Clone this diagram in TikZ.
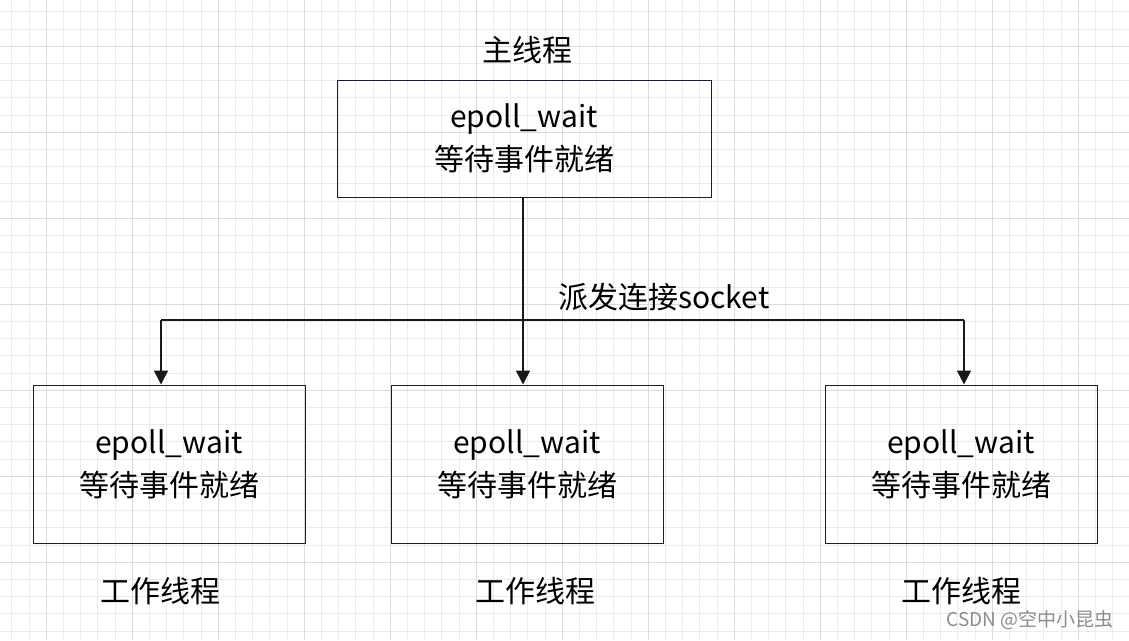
\documentclass[tikz,border=0pt]{standalone}
\usepackage{fontspec}
\setmainfont{Noto Sans CJK SC}
\usetikzlibrary{arrows.meta}
\definecolor{minorgrid}{HTML}{EBEBEB}
\definecolor{majorgrid}{HTML}{DADADA}
\definecolor{boxborder}{HTML}{1A1A3A}
\tikzset{
  box/.style={draw=boxborder, line width=1pt, minimum width=#1, align=center, inner sep=0pt, font=\fontsize{30}{43}\selectfont},
  lbl/.style={font=\fontsize{30}{35}\selectfont, inner sep=0pt},
  conn/.style={line width=1.5pt, draw=black!90},
  arr/.style={conn, -{Triangle[width=14pt,length=14pt]}},
}
\begin{document}
\begin{tikzpicture}[x=1pt,y=-1pt]
\useasboundingbox (0,0) rectangle (1129,640);
\fill[white] (0,0) rectangle (1129,640);
% grid
\foreach \i in {0,...,65}{
  \draw[minorgrid, line width=1pt] (11.9+17.2*\i,0) -- (11.9+17.2*\i,640);
}
\foreach \i in {0,...,37}{
  \draw[minorgrid, line width=1pt] (0,11.9+17.2*\i) -- (1129,11.9+17.2*\i);
}
\foreach \i in {0,...,13}{
  \draw[majorgrid, line width=1pt] (46.3+86*\i,0) -- (46.3+86*\i,640);
}
\foreach \i in {0,...,7}{
  \draw[majorgrid, line width=1pt] (0,46.3+86*\i) -- (1129,46.3+86*\i);
}
% boxes
\node[box=374pt, minimum height=117pt] (main) at (524,138.5) {epoll\_wait\\等待事件就绪};
\node[box=272pt, minimum height=158pt] (w1) at (169,464) {epoll\_wait\\等待事件就绪};
\node[box=272pt, minimum height=158pt] (w2) at (527,464) {epoll\_wait\\等待事件就绪};
\node[box=272pt, minimum height=158pt] (w3) at (961,464) {epoll\_wait\\等待事件就绪};
% labels
\node[lbl] (tmain) at (527,50) {主线程};
\node[lbl] (t1) at (160,591) {工作线程};
\node[lbl] (t2) at (535,591) {工作线程};
\node[lbl] (t3) at (961,591) {工作线程};
\node[lbl, anchor=west] (disp) at (558,297) {派发连接socket};
\node[font=\fontsize{19}{21}\selectfont, text=black!45, inner sep=0pt, anchor=east] (wm) at (1114,620) {CSDN @空中小昆虫};
% connectors
\coordinate (j) at (523,320);
\coordinate (jl) at (161,320);
\coordinate (jr) at (964,320);
\draw[conn] (main.south -| j) -- (j);
\draw[conn] (jl) -- (jr);
\draw[arr] (jl) -- (jl |- w1.north);
\draw[arr] (j) -- (j |- w2.north);
\draw[arr] (jr) -- (jr |- w3.north);
\end{tikzpicture}
\end{document}
